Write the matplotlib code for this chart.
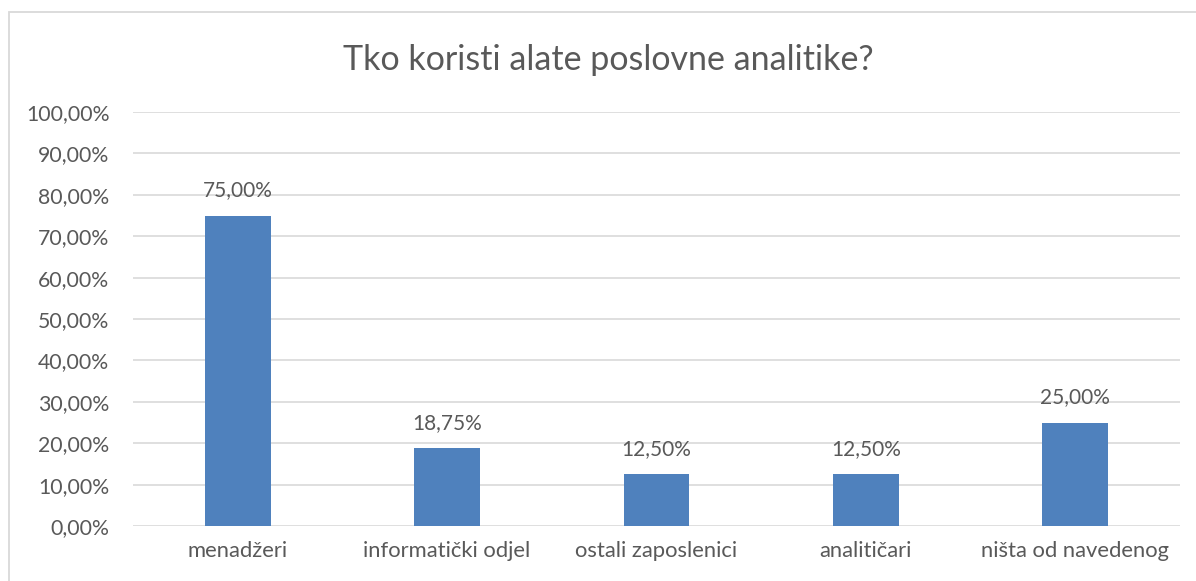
import matplotlib
matplotlib.use("Agg")
import matplotlib.pyplot as plt
from matplotlib.patches import Rectangle

categories = ["menadžeri", "informatički odjel", "ostali zaposlenici", "analitičari", "ništa od navedenog"]
values = [0.75, 0.1875, 0.125, 0.125, 0.25]
yticks = [0.0, 0.1, 0.2, 0.3, 0.4, 0.5, 0.6, 0.7, 0.8, 0.9, 1.0]
title = "Tko koristi alate poslovne analitike?"

def pct(v):
    return f"{v*100:.2f}".replace(".", ",") + "%"

plt.rcParams['font.family'] = ['Lato', 'DejaVu Sans']
txt = "#595959"

fig = plt.figure(figsize=(11.96, 5.81), dpi=100)
fig.patches.append(Rectangle((8.5/1196, -0.1), 1.2, 1 - 12.5/581 + 0.1, transform=fig.transFigure,
                             fill=False, edgecolor="#D9D9D9", linewidth=1.3))
ax = fig.add_axes([133/1196, 1 - 526/581, 1047/1196, 414/581])
x = list(range(len(categories)))
ax.bar(x, values, width=0.315, color="#4F81BD", zorder=3)
ax.set_xlim(-0.5, len(categories) - 0.5)
ax.set_ylim(0, 1)
ax.set_yticks(yticks)
ax.set_yticklabels([pct(v) for v in yticks], fontsize=15.3, color=txt)
ax.set_xticks(x)
ax.set_xticklabels(categories, fontsize=15.8, color=txt)
ax.tick_params(axis='both', length=0)
ax.tick_params(axis='y', pad=17)
ax.tick_params(axis='x', pad=11)
for s in ax.spines.values():
    s.set_visible(False)
ax.grid(axis='y', color="#D9D9D9", linewidth=1.2, zorder=0)
ax.set_axisbelow(True)
for xi, v in zip(x, values):
    ax.annotate(pct(v), (xi, v), xytext=(0, 11), textcoords="offset points",
                ha='center', va='bottom', fontsize=15, color=txt)
fig.text(0.5 + 10/1196, 1 - 60/581, title, ha='center', va='center', fontsize=24.5, color=txt)
fig.savefig("out.png", dpi=100)
